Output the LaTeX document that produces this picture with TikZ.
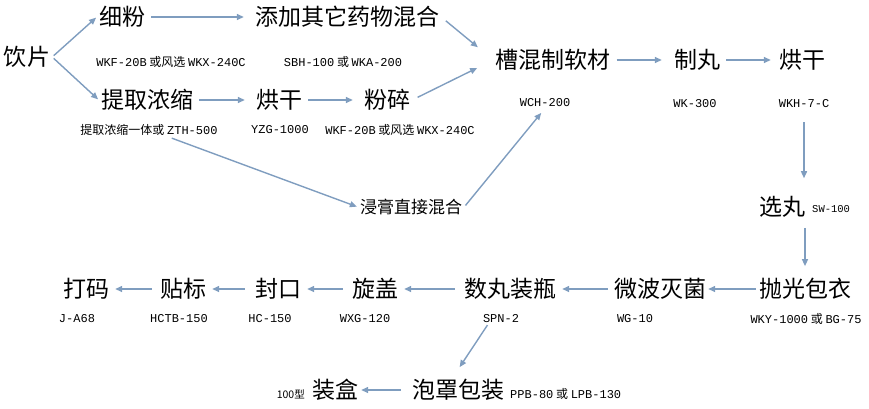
\documentclass[tikz,border=0pt]{standalone}
\usepackage{fontspec}
\setmainfont{Noto Sans CJK SC}
\setmonofont{Liberation Mono}
\usepackage{tikz}
\usetikzlibrary{arrows.meta,positioning}
\definecolor{flowblue}{HTML}{7F9DBF}
\tikzset{
  stage/.style={inner sep=2pt, font=\fontsize{23}{26}\selectfont},
  substage/.style={inner sep=2pt, font=\fontsize{17}{20}\selectfont},
  model/.style={inner sep=1pt, font=\fontsize{12}{14}\selectfont},
  modelsmall/.style={inner sep=1pt, font=\fontsize{10.5}{12}\selectfont},
  flow/.style={-{Triangle[length=7pt,width=6pt]}, draw=flowblue, line width=1.4pt,
    shorten <=4pt, shorten >=4pt},
}

\begin{document}
\begin{tikzpicture}[x=1pt,y=-1pt]
\useasboundingbox (0,0) rectangle (869,409);

% Top part
\node[stage] (yp) at (27,57) {饮片};
\node[stage] (xf) at (122,17) {细粉};
\node[stage] (tj) at (347,17) {添加其它药物混合};
\node[stage] (tq) at (147,100) {提取浓缩};
\node[stage] (hg1) at (279,100) {烘干};
\node[stage] (fs) at (387,100) {粉碎};
\node[stage] (ch) at (553,60) {槽混制软材};
\node[stage] (zw) at (697,60) {制丸};
\node[stage] (hg2) at (802,60) {烘干};
\node[substage] (jg) at (411,207) {浸膏直接混合};
\node[stage] (xw) at (782,207) {选丸};

% Bottom part
\node[stage] (pg) at (805,289) {抛光包衣};
\node[stage] (wb) at (660,289) {微波灭菌};
\node[stage] (sw) at (510,289) {数丸装瓶};
\node[stage] (xg) at (375,289) {旋盖};
\node[stage] (fk) at (278,289) {封口};
\node[stage] (tb) at (183,289) {贴标};
\node[stage] (dm) at (86,289) {打码};
\node[stage] (pz) at (458,390) {泡罩包装};
\node[stage] (zh) at (335,390) {装盒};

% Machine models
\node[model] (m-xf) at (171,62) {\texttt{WKF-20B} 或风选 \texttt{WKX-240C}};
\node[model] (m-tj) at (343,62) {\texttt{SBH-100} 或 \texttt{WKA-200}};
\node[model] (m-ch) at (545,103) {\texttt{WCH-200}};
\node[model] (m-zw) at (695,104) {\texttt{WK-300}};
\node[model] (m-hg2) at (804,104) {\texttt{WKH-7-C}};
\node[model] (m-tq) at (149,130) {提取浓缩一体或 \texttt{ZTH-500}};
\node[model] (m-hg1) at (280,130) {\texttt{YZG-1000}};
\node[model] (m-fs) at (400,130) {\texttt{WKF-20B} 或风选 \texttt{WKX-240C}};
\node[modelsmall, anchor=west] (m-xw) at (811,209) {\texttt{SW-100}};
\node[model] (m-pg) at (806,319) {\texttt{WKY-1000} 或 \texttt{BG-75}};
\node[model] (m-wb) at (635,319) {\texttt{WG-10}};
\node[model] (m-sw) at (501,319) {\texttt{SPN-2}};
\node[model] (m-xg) at (365,319) {\texttt{WXG-120}};
\node[model] (m-fk) at (270,319) {\texttt{HC-150}};
\node[model] (m-tb) at (179,319) {\texttt{HCTB-150}};
\node[model] (m-dm) at (77,319) {\texttt{J-A68}};
\node[model, anchor=west] (m-pz) at (509,394) {\texttt{PPB-80} 或 \texttt{LPB-130}};
\node[modelsmall, anchor=east] (m-zh) at (306,394) {100型};

% Flow
\draw[flow, shorten <=2pt, shorten >=1pt] (yp.east) -- (xf.west);
\draw[flow, shorten <=2pt, shorten >=1pt] (yp.east) -- (tq.west);
\draw[flow, shorten >=9pt] (xf.east) -- (tj.west);
\draw[flow, shorten >=9pt] (tq.east) -- (hg1.west);
\draw[flow, shorten >=9pt] (hg1.east) -- (fs.west);
\draw[flow, shorten <=6pt, shorten >=20pt] (tj.east) -- (ch.west);
\draw[flow, shorten <=6pt, shorten >=18pt] (fs.east) -- (ch.west);
\draw[flow, shorten <=4pt, shorten >=1pt] ([xshift=19pt]m-tq.south) -- (jg.west);
\draw[flow, shorten <=2pt, shorten >=6pt] (jg.east) -- (m-ch.south);
\draw[flow, shorten >=10pt] (ch.east) -- (zw.west);
\draw[flow, shorten >=6pt] (zw.east) -- (hg2.west);
\draw[flow, shorten <=13pt, shorten >=16pt] (m-hg2.south) -- (m-hg2.south |- xw.north);
\draw[flow, shorten <=8pt, shorten >=10pt] (pg.north |- xw.south) -- (pg.north);
\draw[flow, shorten <=1pt, shorten >=0pt] (pg.west) -- (wb.east);
\draw[flow] (wb.west) -- (sw.east);
\draw[flow, shorten <=7pt] (sw.west) -- (xg.east);
\draw[flow, shorten <=7pt] (xg.west) -- (fk.east);
\draw[flow, shorten <=8pt] (fk.west) -- (tb.east);
\draw[flow, shorten <=6pt] (tb.west) -- (dm.east);
\draw[flow, shorten <=1pt, shorten >=12pt] ([xshift=-13pt]m-sw.south) -- ([xshift=-5pt]pz.north);
\draw[flow, shorten <=9pt, shorten >=1pt] (pz.west) -- (zh.east);

\end{tikzpicture}
\end{document}
